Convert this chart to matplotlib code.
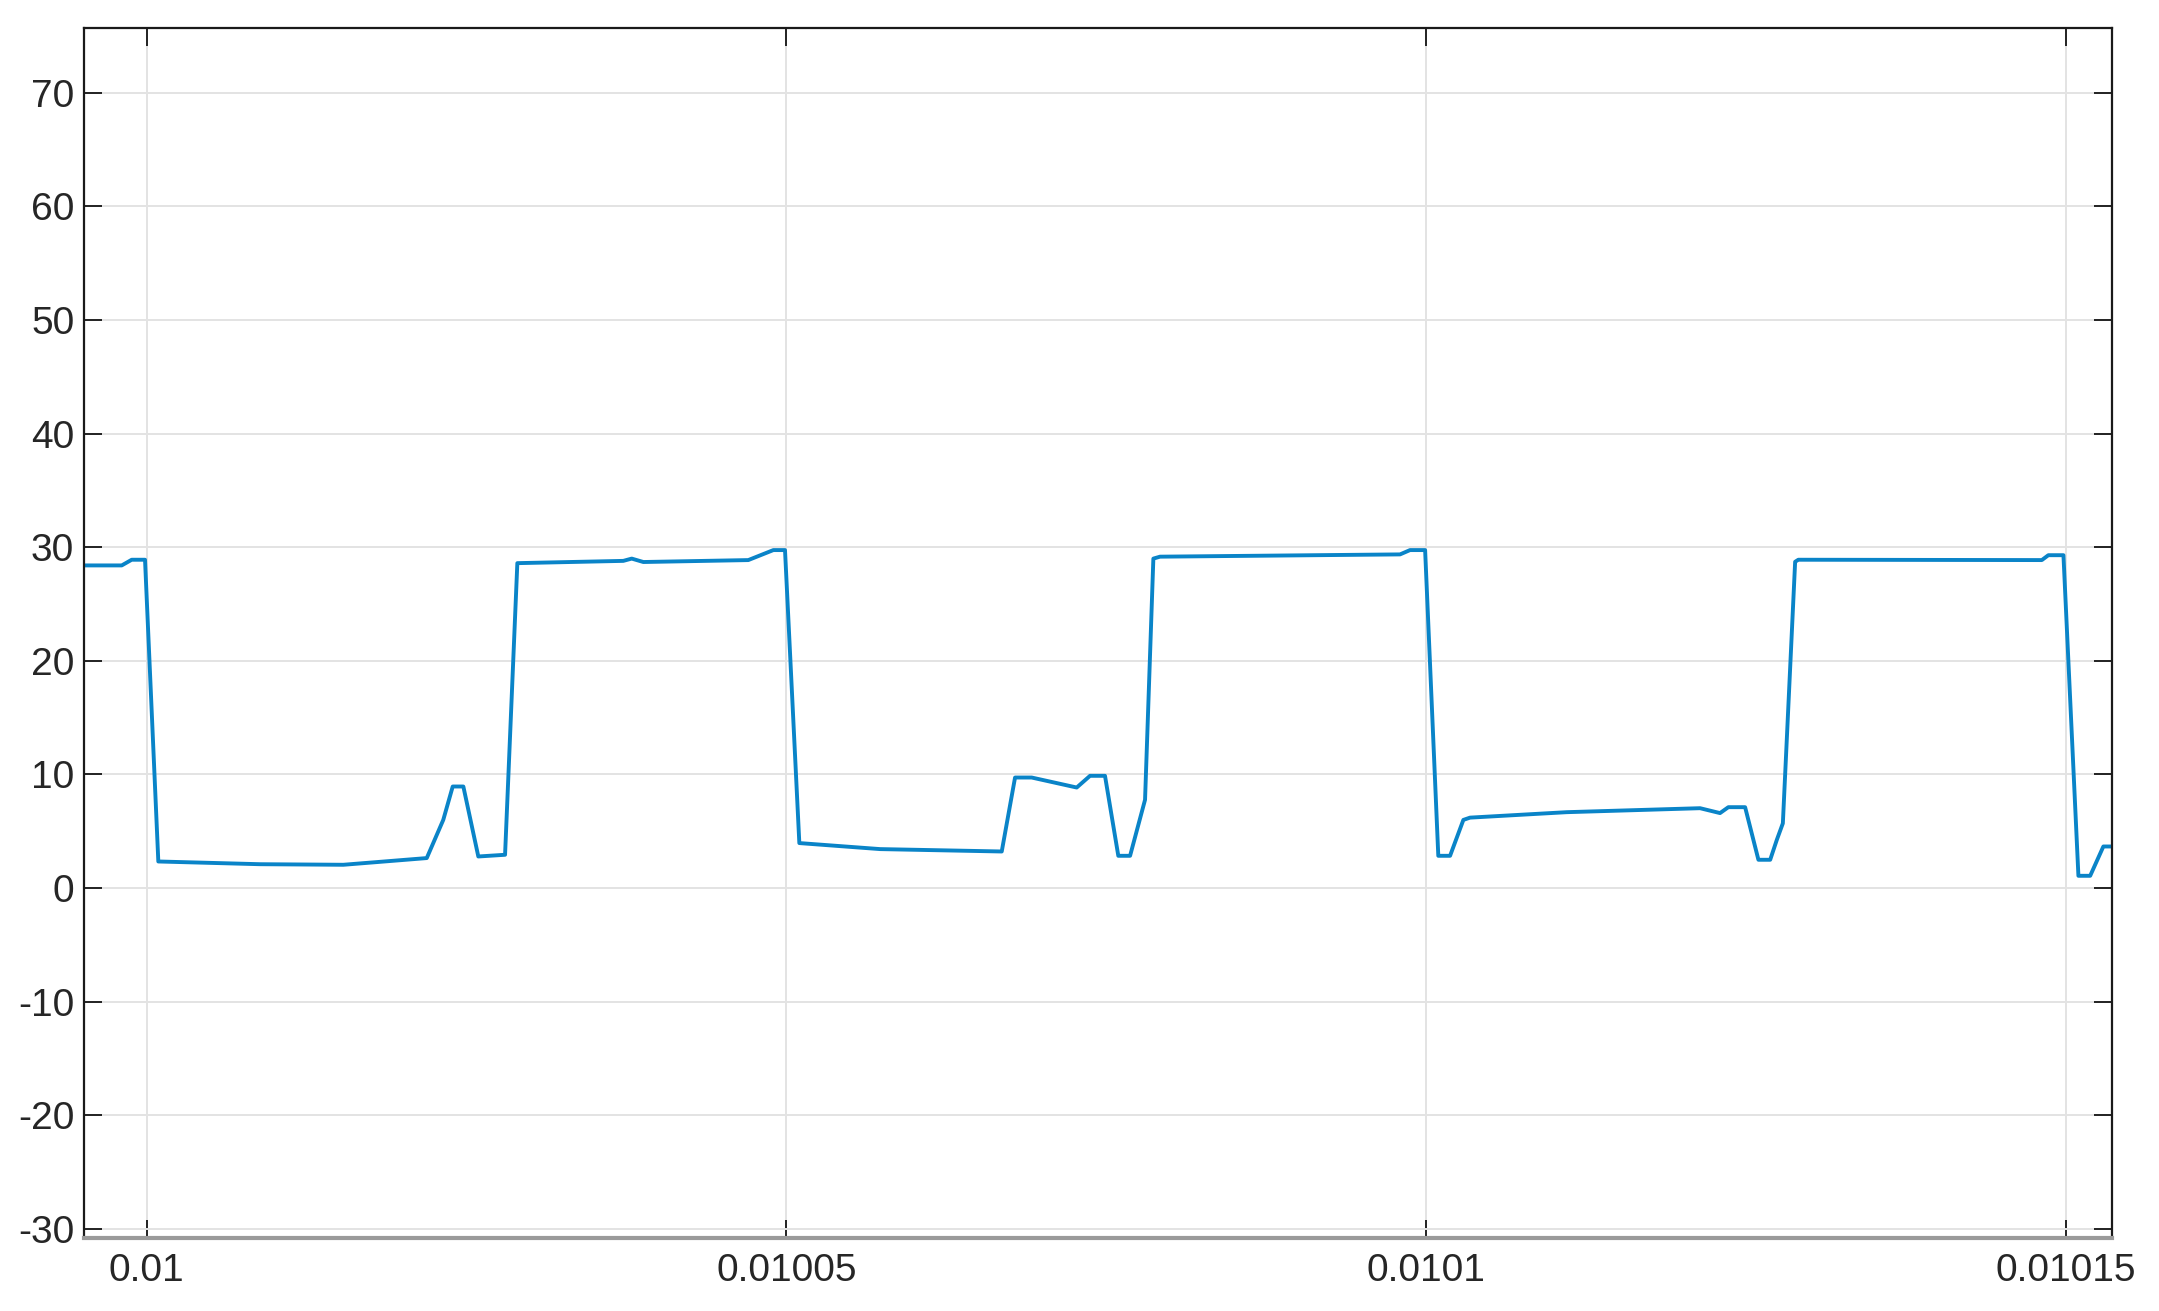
import numpy as np
import matplotlib.pyplot as plt

plt.rcParams['font.family'] = ['Liberation Sans', 'DejaVu Sans']
plt.rcParams['axes.unicode_minus'] = False

# time offsets from 0.01 s, in microseconds, and the signal values
t_us = [-4.90, -1.95, -1.17, -0.13, 0.91, 8.86, 15.37, 21.89, 23.18, 23.92, 24.75,
        25.92, 28.01, 28.97, 37.25, 37.91, 38.82, 47.02, 48.98, 49.89, 51.01,
        57.32, 66.83, 67.87, 69.17, 72.69, 73.73, 74.90, 75.94, 76.86, 78.03,
        78.68, 79.20, 97.96, 98.74, 99.92, 100.95, 101.87, 102.91, 103.43,
        110.99, 121.41, 122.97, 123.62, 124.93, 125.97, 126.89, 127.41, 127.88,
        128.84, 129.09, 148.12, 148.63, 149.81, 150.98, 151.90, 152.93, 153.59]
values = [28.4, 28.4, 28.9, 28.9, 2.34, 2.1, 2.05, 2.64, 6.0, 8.94, 8.94,
          2.78, 2.93, 28.6, 28.8, 29.0, 28.7, 28.87, 29.75, 29.75, 3.96,
          3.43, 3.22, 9.73, 9.73, 8.85, 9.88, 9.88, 2.84, 2.84, 7.77,
          29.0, 29.17, 29.37, 29.75, 29.75, 2.84, 2.84, 6.0, 6.2,
          6.68, 7.03, 6.6, 7.12, 7.12, 2.49, 2.49, 4.25, 5.7,
          28.72, 28.9, 28.87, 29.3, 29.3, 1.08, 1.08, 3.66, 3.66]

x_ticks = [0.01, 0.01005, 0.0101, 0.01015]
x_labels = ["0.01", "0.01005", "0.0101", "0.01015"]
y_ticks = list(range(-30, 71, 10))

t = 0.01 + np.array(t_us) * 1e-6

fig = plt.figure(figsize=(21.59, 13.11), dpi=100)
ax = fig.add_axes([0.0389, 0.0557, 0.9393, 0.9229])

ax.plot(t, values, color="#0A84C8", linewidth=2.8, solid_joinstyle="round")

ax.set_xlim(0.0099951, 0.0101536)
ax.set_ylim(-30.8, 75.7)
ax.set_xticks(x_ticks)
ax.set_xticklabels(x_labels)
ax.set_yticks(y_ticks)

ax.grid(True, color="#E3E3E3", linewidth=1.4)
ax.set_axisbelow(True)

ax.tick_params(axis="both", direction="in", length=13, width=1.4, color="#222222",
               labelsize=28, labelcolor="#262626", top=True, right=True)
ax.tick_params(axis="x", pad=11)
ax.tick_params(axis="y", pad=7)

for side in ["left", "top", "right"]:
    ax.spines[side].set_color("#1a1a1a")
    ax.spines[side].set_linewidth(1.6)
ax.spines["bottom"].set_color("#9a9a9a")
ax.spines["bottom"].set_linewidth(3)

fig.savefig("out.png", dpi=100)
